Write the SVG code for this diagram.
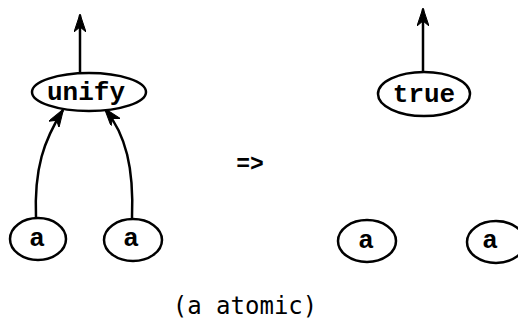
<svg xmlns="http://www.w3.org/2000/svg" width="518" height="324" viewBox="0 0 518 324">
<style>
.n{fill:#fff;stroke:#000;stroke-width:2.5}
.t{font-family:"Liberation Mono","Courier New",monospace;font-weight:bold;font-size:26px;text-anchor:middle;fill:#000}
.e{fill:none;stroke:#000;stroke-width:2.5}
.l{font-family:"DejaVu Sans Mono",monospace;font-size:24px;text-anchor:middle;fill:#000}
</style>
<defs>
<marker id="ah" viewBox="0 0 18 12" refX="17" refY="6" markerWidth="18" markerHeight="12" markerUnits="userSpaceOnUse" orient="auto">
<path d="M0,0 L18,6 L0,12 L5,6 Z" fill="#000" stroke="#000" stroke-width="1"/>
</marker>
</defs>
<rect width="518" height="324" fill="#fff"/>
<g id="connectors">
<path class="e" d="M80,73 L80,15" marker-end="url(#ah)"/>
<path class="e" d="M423,71 L423,9" marker-end="url(#ah)"/>
<path class="e" d="M36,218 C34,168 44,140 63,110" marker-end="url(#ah)"/>
<path class="e" d="M132,218 C134,168 126,135 105,109" marker-end="url(#ah)"/>
</g>
<g id="unify">
<ellipse class="n" cx="89" cy="92" rx="57" ry="19"/>
<text class="t" x="86" y="100">unify</text>
</g>
<g id="a1">
<ellipse class="n" cx="38" cy="239" rx="28" ry="21"/>
<text class="t" x="37" y="246">a</text>
</g>
<g id="a2">
<ellipse class="n" cx="133" cy="240" rx="29" ry="21"/>
<text class="t" x="131" y="246">a</text>
</g>
<g id="arrow-label">
<text x="250" y="171" font-family="Liberation Mono,monospace" font-weight="bold" font-size="23" text-anchor="middle">=&gt;</text>
</g>
<g id="true">
<ellipse class="n" cx="424" cy="94" rx="46" ry="22"/>
<text class="t" x="424" y="102">true</text>
</g>
<g id="a3">
<ellipse class="n" cx="367" cy="241" rx="29" ry="21"/>
<text class="t" x="366" y="248">a</text>
</g>
<g id="a4">
<ellipse class="n" cx="496" cy="242" rx="29" ry="21"/>
<text class="t" x="490" y="248">a</text>
</g>
<text class="l" x="245" y="314">(a atomic)</text>
</svg>
